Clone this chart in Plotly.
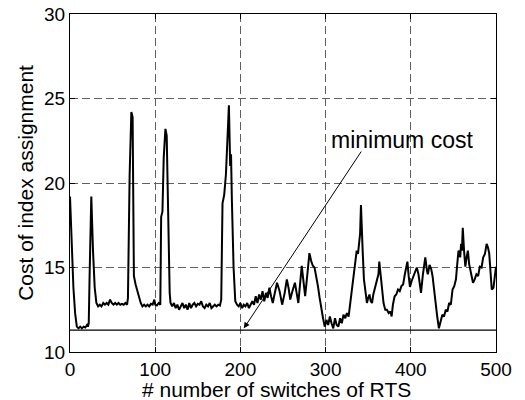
import plotly.graph_objects as go

# switch index and cost of index assignment
switches = [0, 2, 4, 6, 8, 10, 12, 14, 16, 18, 20, 21, 22, 23, 25, 27, 29, 31, 33, 35,
            37, 39, 41, 43, 45, 47, 49, 51, 53, 55, 57, 59, 61, 63, 65, 67, 68, 70, 72, 73.5,
            75, 77, 79, 81, 83, 85, 87, 89, 91, 93, 95, 97, 99, 100, 102, 104, 106, 107, 108.5, 110,
            112, 113.5, 115, 117, 118, 120, 122, 124, 126, 128, 130, 132, 134, 136, 138, 140, 142, 144, 146, 148,
            150, 152, 154, 156, 158, 160, 162, 164, 166, 168, 170, 172, 174, 176, 177.5, 179, 181, 183, 185, 186.5,
            188, 189, 190, 192, 194, 196, 198, 200, 202, 204, 206, 208, 210, 212, 214, 216, 218, 220, 222, 224,
            226, 228, 230, 232, 234, 236, 238, 240, 243, 246, 249, 252, 254.5, 256.5, 258.5, 261, 264, 266, 268, 270,
            272, 274, 276, 278, 280, 281, 283, 285, 287, 289, 291, 293, 295, 297, 299, 301, 303, 305, 307, 309,
            311, 313, 315, 317, 319, 321, 323, 325, 327, 329, 331, 333, 335, 336.5, 338, 339.5, 340.5, 341.5, 342.5, 343.5,
            345, 346.5, 348.5, 350, 351.5, 353, 354.5, 356, 358, 360, 362, 363, 364, 366, 368, 370, 372, 374, 376, 377.5,
            379, 381, 383, 385, 387, 389, 391, 393, 394.5, 396, 397.5, 399, 401, 403, 405, 407, 409, 411, 412, 414,
            415.5, 417, 419, 420, 422, 424, 425.5, 427, 429, 431, 433, 435, 437, 439, 441, 443, 445, 447, 449, 451,
            453, 454.5, 456, 458, 459, 460, 461, 462.5, 464, 465.5, 467, 468.5, 470, 471.5, 473, 475, 477, 479, 481, 483,
            485, 487, 489, 490.5, 492, 493.5, 495, 497, 498.5, 500]
cost = [19.2, 16.0, 13.8, 12.3, 11.5, 11.4, 11.5, 11.4, 11.5, 11.45, 11.6, 11.5, 11.7, 14.5, 19.2, 16.0, 13.8, 12.9, 12.7, 12.8,
        12.7, 12.9, 12.8, 12.9, 12.8, 13.1, 12.9, 12.8, 12.9, 12.8, 12.9, 12.8, 12.85, 12.8, 12.9, 12.8, 13.2, 20.5, 24.2, 23.9,
        14.5, 14.0, 13.6, 13.3, 12.9, 12.7, 12.8, 12.7, 12.8, 12.7, 12.85, 12.8, 13.1, 12.8, 12.75, 12.9, 12.8, 18.0, 18.3, 21.5,
        23.2, 22.8, 17.5, 13.5, 12.9, 12.7, 12.9, 12.6, 12.8, 12.5, 12.7, 12.9, 12.6, 12.8, 12.5, 12.9, 12.6, 12.8, 12.9, 12.7,
        12.85, 12.8, 13.0, 12.7, 12.6, 12.8, 12.7, 12.9, 12.6, 12.7, 12.8, 12.7, 12.8, 12.75, 13.1, 18.8, 19.3, 20.5, 23.5, 24.6,
        21.0, 21.7, 19.0, 15.0, 13.0, 12.8, 12.7, 12.9, 12.6, 12.8, 12.7, 12.9, 12.6, 12.8, 13.0, 12.8, 13.3, 12.9, 13.4, 13.1,
        13.6, 13.0, 13.5, 13.2, 13.8, 13.3, 12.9, 13.4, 14.1, 13.6, 12.8, 13.5, 14.3, 13.8, 13.1, 13.6, 14.1, 13.5, 12.9, 14.0,
        15.1, 14.2, 13.3, 14.3, 15.3, 15.85, 15.4, 15.1, 15.0, 14.5, 13.9, 13.2, 12.5, 12.0, 11.5, 11.9, 11.6, 12.1, 11.7, 11.4,
        12.0, 11.6, 11.5, 12.0, 11.7, 12.2, 12.0, 12.3, 12.1, 13.0, 13.5, 14.4, 15.5, 16.0, 15.8, 16.6, 17.0, 18.7, 16.8, 16.0,
        14.3, 13.5, 12.9, 13.2, 13.4, 13.0, 12.9, 13.4, 13.8, 14.1, 14.6, 15.35, 14.8, 13.8, 12.9, 12.5, 12.5, 12.3, 12.4, 12.1,
        12.8, 13.3, 13.4, 13.7, 13.6, 13.9, 14.0, 14.6, 15.0, 15.35, 14.5, 13.85, 14.2, 14.5, 14.8, 15.0, 14.6, 13.8, 13.5, 14.5,
        15.1, 15.6, 14.8, 14.6, 15.15, 14.9, 14.5, 13.8, 13.1, 12.1, 11.4, 11.9, 12.2, 12.1, 12.5, 12.4, 12.9, 12.8, 13.7, 13.9,
        14.3, 15.2, 16.0, 15.6, 16.4, 16.0, 17.35, 16.0, 15.05, 15.6, 16.0, 15.2, 14.75, 14.5, 14.1, 14.3, 14.6, 14.5, 15.05, 15.0,
        15.6, 15.8, 16.4, 16.2, 15.85, 14.8, 13.7, 13.8, 14.45, 15.05]

min_x = [0, 500]
min_cost = [11.3, 11.3]

x_ticks = [0, 100, 200, 300, 400, 500]
y_ticks = [10, 15, 20, 25, 30]

font = "Liberation Sans, Arial, sans-serif"

fig = go.Figure()
fig.add_trace(go.Scatter(x=switches, y=cost, mode="lines",
                         line=dict(color="black", width=2), hoverinfo="skip"))
fig.add_trace(go.Scatter(x=min_x, y=min_cost, mode="lines",
                         line=dict(color="black", width=1.3), hoverinfo="skip"))

axis_common = dict(
    showline=True, linecolor="black", linewidth=1, mirror="ticks",
    ticks="inside", ticklen=5, tickcolor="black", automargin=False,
    ticklabeloverflow="allow",
    showgrid=True, gridcolor="#606060", gridwidth=1, griddash="8px,4px",
    zeroline=False, tickfont=dict(family=font, size=19, color="black"),
)

fig.update_xaxes(range=[0, 500], tickvals=x_ticks, **axis_common)
fig.update_yaxes(range=[10, 30], tickvals=y_ticks, **axis_common)

# axis titles
fig.add_annotation(x=0.485, y=-0.112, xref="paper", yref="paper", text="# number of switches of RTS",
                   showarrow=False, xanchor="center", yanchor="middle",
                   font=dict(family=font, size=21, color="black"))
fig.add_annotation(x=-0.106, y=0.5, xref="paper", yref="paper", text="Cost of index assignment",
                   showarrow=False, textangle=-90, xanchor="center", yanchor="middle",
                   font=dict(family=font, size=21, color="black"))

# arrow to the minimum cost line
fig.add_annotation(x=204, y=11.4, ax=343, ay=21.95, xref="x", yref="y", axref="x", ayref="y",
                   text="", showarrow=True, arrowhead=2, arrowsize=1.2, arrowwidth=1, arrowcolor="black")
fig.add_annotation(x=390, y=22.55, xref="x", yref="y", text="minimum cost", showarrow=False,
                   font=dict(family=font, size=23, color="black"))

# the page adds an 8px body margin, so margins are shifted up/left by 8px
fig.update_layout(
    width=525, height=400, showlegend=False,
    plot_bgcolor="white", paper_bgcolor="white",
    margin=dict(l=62, r=37, t=6, b=56),
)

fig.write_html("out.html")
